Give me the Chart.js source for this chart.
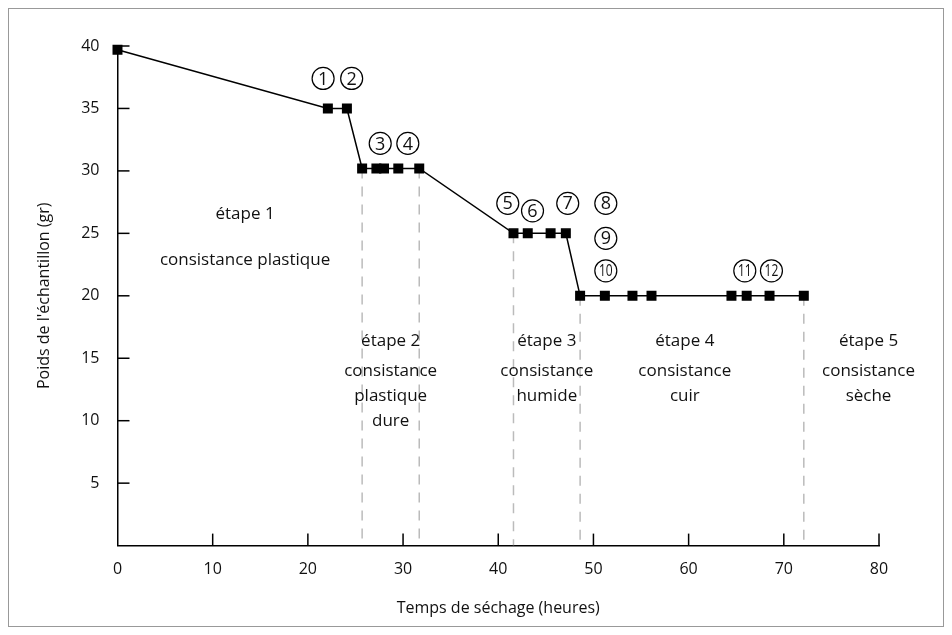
<!DOCTYPE html>
<html><head><meta charset="utf-8">
<script src="https://cdn.jsdelivr.net/npm/chart.js@4"></script>
<style>
body{margin:0;background:#fff}
#wrap{position:absolute;left:8px;top:8px;width:934px;height:617px;border:1px solid #999}
</style></head>
<body><div id="wrap"><canvas id="c"></canvas></div>
<script>
const hours = [0, 22.1, 24.1, 25.7, 27.2, 28.0, 29.5, 31.7, 41.6, 43.1, 45.5, 47.1, 48.6, 51.2, 54.1, 56.1, 64.5, 66.1, 68.5, 72.1];
const weights = [39.7, 35, 35, 30.2, 30.2, 30.2, 30.2, 30.2, 25, 25, 25, 25, 20, 20, 20, 20, 20, 20, 20, 20];
const stageBounds = [[25.7, 30.2], [31.7, 30.2], [41.6, 25], [48.6, 20], [72.1, 20]];
const markerNames = ['1', '2', '3', '4', '5', '6', '7', '8', '9', '10', '11', '12'];
const markerX = [21.6, 24.6, 27.6, 30.5, 41.0, 43.6, 47.3, 51.3, 51.3, 51.3, 65.9, 68.7];
const markerY = [37.4, 37.4, 32.2, 32.2, 27.4, 26.8, 27.4, 27.4, 24.6, 22.0, 22.0, 22.0];
const stageLines = [
  ['étape 1', 'consistance plastique'],
  ['étape 2', 'consistance', 'plastique', 'dure'],
  ['étape 3', 'consistance', 'humide'],
  ['étape 4', 'consistance', 'cuir'],
  ['étape 5', 'consistance', 'sèche']
];
const stageX = [13.4, 28.7, 45.1, 59.6, 78.9];
const stageY = [26.5, 16.4, 16.4, 16.4, 16.4];

const FONT = '"Open Sans", sans-serif';

const dashed = stageBounds.map(b => ({
  type: 'line', data: [{x: b[0], y: b[1]}, {x: b[0], y: 0}],
  borderColor: '#bbb', borderWidth: 1.5, borderDash: [10, 8], pointRadius: 0
}));

const annot = {
  id: 'annot',
  afterDraw(chart) {
    const {ctx, scales: {x, y}} = chart;
    ctx.save();
    ctx.strokeStyle = '#000'; ctx.lineWidth = 1.5;
    // inward ticks
    for (let v = 10; v <= 80; v += 10) {
      const px = x.getPixelForValue(v);
      ctx.beginPath(); ctx.moveTo(px, y.bottom); ctx.lineTo(px, y.bottom - 12); ctx.stroke();
    }
    for (let v = 5; v <= 40; v += 5) {
      const py = y.getPixelForValue(v);
      ctx.beginPath(); ctx.moveTo(x.left, py); ctx.lineTo(x.left + 12, py); ctx.stroke();
    }
    ctx.fillStyle = '#111';
    ctx.textAlign = 'center'; ctx.textBaseline = 'middle';
    ctx.lineWidth = 1.2;
    markerNames.forEach((m, i) => {
      const px = x.getPixelForValue(markerX[i]), py = y.getPixelForValue(markerY[i]);
      ctx.beginPath(); ctx.arc(px, py, 11, 0, Math.PI * 2); ctx.stroke();
      ctx.font = (m.length > 1 ? '16px ' : '18px ') + FONT;
      if (m.length > 1) { ctx.save(); ctx.translate(px, py + 1); ctx.scale(0.75, 1); ctx.fillText(m, 0, 0); ctx.restore(); }
      else ctx.fillText(m, px, py + 1);
    });
    ctx.font = '17px ' + FONT;
    stageLines.forEach((lines, i) => {
      const px = x.getPixelForValue(stageX[i]);
      const py = y.getPixelForValue(stageY[i]);
      lines.forEach((t, j) => {
        const off = i === 0 ? j * 46 : (j === 0 ? 0 : 30 + (j - 1) * 25);
        ctx.fillText(t, px, py + off);
      });
    });
    ctx.restore();
  }
};

new Chart(document.getElementById('c'), {
  type: 'line',
  data: {
    datasets: [{
      data: hours.map((h, i) => ({x: h, y: weights[i]})),
      borderColor: '#000', backgroundColor: '#000', borderWidth: 1.5,
      pointStyle: 'rect', pointRadius: 6, pointHoverRadius: 6, clip: false
    }, ...dashed]
  },
  options: {
    responsive: true, maintainAspectRatio: false, animation: false,
    layout: {padding: {top: 37, right: 64, left: 22, bottom: 4}},
    plugins: {legend: {display: false}, tooltip: {enabled: false}},
    scales: {
      x: {
        type: 'linear', min: 0, max: 80,
        ticks: {stepSize: 10, color: '#111', font: {size: 16, family: FONT}, padding: 6},
        grid: {display: false},
        border: {color: '#000', width: 1.5},
        title: {display: true, text: 'Temps de séchage (heures)', color: '#111', font: {size: 16, family: FONT}, padding: {top: 14}}
      },
      y: {
        min: 0, max: 40,
        ticks: {stepSize: 5, color: '#111', font: {size: 16, family: FONT}, padding: 10,
          callback: v => v === 0 ? '' : v},
        grid: {display: false},
        border: {color: '#000', width: 1.5},
        title: {display: true, text: "Poids de l'échantillon (gr)", color: '#111', font: {size: 16, family: FONT}, padding: {bottom: 17}}
      }
    }
  },
  plugins: [annot]
});
</script></body></html>
